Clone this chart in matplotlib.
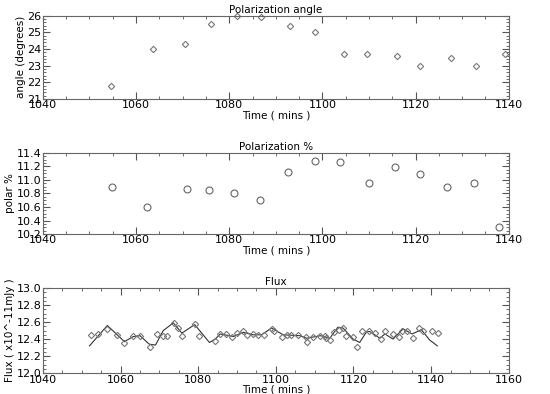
import numpy as np
import matplotlib
matplotlib.use('Agg')
from matplotlib import pyplot as plt
from matplotlib.ticker import MultipleLocator, AutoMinorLocator

# polarization angle
ang_t = [1054.7, 1063.7, 1070.5, 1076.1, 1081.6, 1086.9, 1093.0, 1098.4,
         1104.6, 1109.5, 1116.0, 1121.0, 1127.5, 1133.0, 1139.1]
ang_v = [21.8, 24.0, 24.3, 25.48, 26.0, 25.9, 25.36, 25.05,
         23.7, 23.68, 23.55, 23.0, 23.45, 23.0, 23.7]

# polarization %
pol_t = [1054.8, 1062.4, 1071.0, 1075.7, 1081.1, 1086.6, 1092.6, 1098.4,
         1103.8, 1109.9, 1115.6, 1121.0, 1126.8, 1132.6, 1138.0]
pol_v = [10.9, 10.6, 10.87, 10.85, 10.81, 10.7, 11.12, 11.28,
         11.26, 10.95, 11.19, 11.09, 10.9, 10.96, 10.3]

# flux points
flux_t = [1052.3, 1054.1, 1056.6, 1059.1, 1060.9, 1063.3, 1065.0, 1067.6,
          1069.3, 1071.0, 1072.0, 1073.7, 1074.9, 1075.9, 1079.1, 1080.3,
          1084.3, 1085.6, 1087.1, 1088.8, 1090.0, 1091.6, 1092.5, 1094.2,
          1095.5, 1096.9, 1099.1, 1099.5, 1101.5, 1102.9, 1103.8, 1105.6,
          1107.7, 1108.0, 1109.5, 1111.5, 1112.6, 1113.0, 1114.0, 1115.0,
          1116.2, 1117.2, 1118.2, 1119.9, 1121.0, 1122.1, 1124.0, 1125.6,
          1127.0, 1128.0, 1130.2, 1131.8, 1132.4, 1133.7, 1135.4, 1136.9,
          1138.0, 1140.3, 1141.8]
flux_v = [12.45, 12.46, 12.52, 12.45, 12.35, 12.44, 12.44, 12.31,
          12.46, 12.44, 12.44, 12.59, 12.53, 12.44, 12.58, 12.44,
          12.38, 12.46, 12.46, 12.42, 12.47, 12.49, 12.45, 12.46,
          12.45, 12.45, 12.52, 12.49, 12.43, 12.45, 12.45, 12.45,
          12.42, 12.37, 12.42, 12.44, 12.44, 12.41, 12.39, 12.48,
          12.51, 12.53, 12.44, 12.42, 12.31, 12.49, 12.49, 12.47,
          12.4, 12.5, 12.46, 12.42, 12.5, 12.5, 12.41, 12.53,
          12.5, 12.49, 12.47]

# smoothed flux curve
fit_t = [1052.0, 1056.6, 1061.0, 1063.3, 1065.0, 1067.4, 1069.0, 1071.0,
         1073.6, 1075.8, 1079.1, 1082.9, 1084.4, 1085.7, 1089.1, 1091.6,
         1094.2, 1096.3, 1098.9, 1101.9, 1106.2, 1107.9, 1111.5, 1113.9,
         1116.0, 1117.3, 1119.9, 1121.6, 1123.3, 1124.2, 1126.8, 1128.1,
         1130.2, 1132.8, 1135.1, 1137.5, 1139.6, 1141.6]
fit_v = [12.32, 12.56, 12.37, 12.43, 12.44, 12.34, 12.33, 12.5,
         12.59, 12.47, 12.57, 12.36, 12.4, 12.46, 12.43, 12.48,
         12.45, 12.45, 12.53, 12.45, 12.44, 12.41, 12.44, 12.41,
         12.54, 12.53, 12.4, 12.36, 12.48, 12.49, 12.41, 12.46,
         12.4, 12.52, 12.46, 12.51, 12.39, 12.32]

plt.rcParams['font.family'] = 'DejaVu Sans'
fig = plt.figure(figsize=(5.5, 3.94), dpi=100)

def style(ax, xmax, ylo, yhi, ymaj, nminor, title, ylabel):
    ax.set_xlim(1040, xmax)
    ax.set_ylim(ylo, yhi)
    ax.xaxis.set_major_locator(MultipleLocator(20))
    ax.xaxis.set_minor_locator(MultipleLocator(5))
    ax.yaxis.set_major_locator(MultipleLocator(ymaj))
    ax.yaxis.set_minor_locator(AutoMinorLocator(nminor))
    ax.tick_params(which='both', direction='in', top=True, right=True,
                   labelsize=8, color='#555555', pad=1)
    ax.tick_params(which='major', length=5)
    ax.tick_params(which='minor', length=2.5)
    for s in ax.spines.values():
        s.set_color('#666666')
        s.set_linewidth(0.8)
    ax.set_title(title, fontsize=7.5, pad=2)
    ax.set_xlabel('Time ( mins )', fontsize=7.5, labelpad=0)
    ax.set_ylabel(ylabel, fontsize=7.5, labelpad=1)

ax1 = fig.add_axes([0.078, 0.749, 0.847, 0.211])
ax1.plot(ang_t, ang_v, 'D', mfc='none', mec='#777777', ms=3.2, mew=0.8, clip_on=False)
style(ax1, 1140, 21, 26, 1, 5, 'Polarization angle', 'angle (degrees)')

ax2 = fig.add_axes([0.078, 0.406, 0.847, 0.206])
ax2.plot(pol_t, pol_v, 'o', mfc='none', mec='#666666', ms=5, mew=0.8, clip_on=False)
style(ax2, 1140, 10.2, 11.4, 0.2, 4, 'Polarization %', 'polar %')
ax2.yaxis.set_major_formatter(plt.FormatStrFormatter('%.1f'))

ax3 = fig.add_axes([0.078, 0.053, 0.847, 0.216])
ax3.plot(fit_t, fit_v, '-', color='#333333', lw=0.8)
ax3.plot(flux_t, flux_v, 'D', mfc='none', mec='#777777', ms=3.2, mew=0.8)
style(ax3, 1160, 12.0, 13.0, 0.2, 4, 'Flux', 'Flux ( x10^-11mJy )')
ax3.yaxis.set_major_formatter(plt.FormatStrFormatter('%.1f'))

fig.savefig('out.png', dpi=100)
